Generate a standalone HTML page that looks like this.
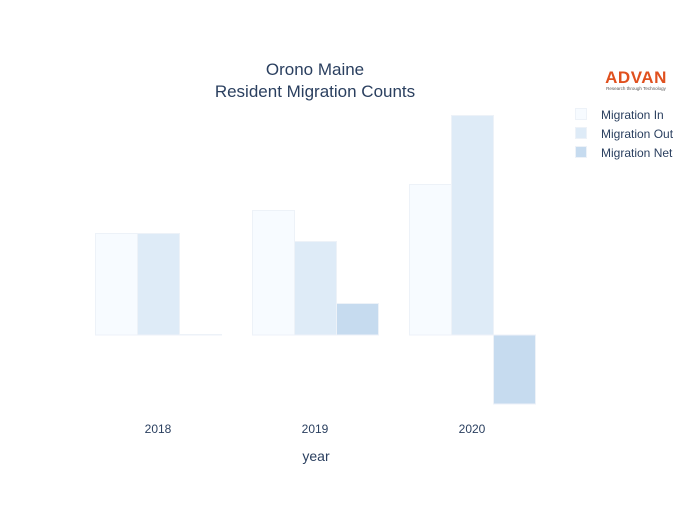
<!DOCTYPE html>
<html><head><style>body{margin:0;background:#fff}</style></head><body>
<svg width="700" height="500" xmlns="http://www.w3.org/2000/svg" font-family="'Liberation Sans',sans-serif" fill="#2a3f5f">
<rect width="700" height="500" fill="#fff"/>
<text x="315" y="75" font-size="17" text-anchor="middle">Orono Maine</text>
<text x="315" y="97" font-size="17" text-anchor="middle">Resident Migration Counts</text>
<g stroke="#edf2f8" stroke-width="1">
<rect x="95.5" y="233.5" width="42" height="101.5" fill="#f7fbff"/>
<rect x="137.5" y="233.5" width="42" height="101.5" fill="#deebf7"/>
<rect x="179.5" y="334.5" width="42" height="0.5" fill="#c6dbef"/>
<rect x="252.5" y="210.5" width="42" height="124.5" fill="#f7fbff"/>
<rect x="294.5" y="241.5" width="42" height="93.5" fill="#deebf7"/>
<rect x="336.5" y="303.5" width="42" height="31.5" fill="#c6dbef"/>
<rect x="409.5" y="184.5" width="42" height="150.5" fill="#f7fbff"/>
<rect x="451.5" y="115.5" width="42" height="219.5" fill="#deebf7"/>
<rect x="493.5" y="335" width="42" height="69" fill="#c6dbef"/>
</g>
<g font-size="12" text-anchor="middle">
<text x="158" y="433">2018</text>
<text x="315" y="433">2019</text>
<text x="472" y="433">2020</text>
</g>
<text x="316" y="461" font-size="14" text-anchor="middle">year</text>
<text x="636" y="83" font-size="17" fill="#e0501e" text-anchor="middle" font-weight="bold" letter-spacing="0.5">ADVAN</text>
<text x="636" y="90" font-size="4.5" fill="#555" text-anchor="middle">Research through Technology</text>
<g stroke="#edf2f8">
<rect x="575.5" y="108.5" width="11" height="11" fill="#f7fbff"/>
<rect x="575.5" y="127.5" width="11" height="11" fill="#deebf7"/>
<rect x="575.5" y="146.5" width="11" height="11" fill="#c6dbef"/>
</g>
<g font-size="12">
<text x="601" y="119">Migration In</text>
<text x="601" y="138">Migration Out</text>
<text x="601" y="157">Migration Net</text>
</g>
</svg>
</body></html>
